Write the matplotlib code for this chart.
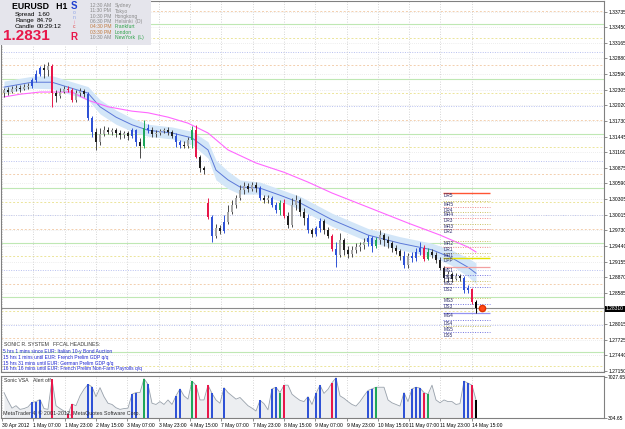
import numpy as np
import matplotlib
matplotlib.use("Agg")
import matplotlib.pyplot as plt
from matplotlib.patches import Rectangle

plt.rcParams['font.family'] = ['Liberation Sans', 'DejaVu Sans']

# ---------------- data ----------------
opens = [1.3224,1.3230,1.3226,1.3232,1.3233,1.3232,1.3235,1.3237,1.3248,1.3259,
         1.3270,1.3266,1.3274,1.3224,1.3219,1.3226,1.3232,1.3230,1.3211,1.3224,
         1.3228,1.3222,1.3178,1.3153,1.3134,1.3149,1.3156,1.3153,1.3156,1.3151,
         1.3147,1.3151,1.3145,1.3156,1.3134,1.3127,1.3160,1.3156,1.3149,1.3151,
         1.3155,1.3156,1.3153,1.3145,1.3134,1.3129,1.3127,1.3138,1.3156,1.3107,
         1.3087,1.3023,1.2997,1.2962,1.2977,1.2971,1.2988,1.3006,1.3019,1.3032,
         1.3047,1.3054,1.3048,1.3056,1.3050,1.3032,1.3028,1.3032,1.3019,1.3010,
         1.3023,1.2999,1.2982,1.3019,1.3028,1.3006,1.2995,1.2973,1.2966,1.2977,
         1.2990,1.2973,1.2962,1.2938,1.2927,1.2955,1.2937,1.2929,1.2937,1.2942,
         1.2946,1.2951,1.2959,1.2944,1.2955,1.2964,1.2955,1.2949,1.2940,1.2935,
         1.2926,1.2909,1.2926,1.2922,1.2933,1.2940,1.2920,1.2933,1.2927,1.2918,
         1.2904,1.2885,1.2893,1.2883,1.2889,1.2885,1.2863,1.2865,1.2841]
highs = [1.3233,1.3235,1.3237,1.3239,1.3239,1.3241,1.3243,1.3252,1.3266,1.3274,
         1.3277,1.3281,1.3277,1.3230,1.3233,1.3237,1.3237,1.3233,1.3230,1.3233,
         1.3232,1.3226,1.3182,1.3160,1.3160,1.3164,1.3162,1.3160,1.3160,1.3156,
         1.3155,1.3155,1.3160,1.3158,1.3142,1.3175,1.3167,1.3162,1.3156,1.3158,
         1.3160,1.3162,1.3156,1.3151,1.3138,1.3136,1.3144,1.3164,1.3166,1.3111,
         1.3091,1.3032,1.3001,1.2984,1.2982,1.3001,1.3019,1.3028,1.3037,1.3056,
         1.3061,1.3059,1.3061,1.3061,1.3054,1.3037,1.3037,1.3036,1.3025,1.3028,
         1.3030,1.3006,1.3032,1.3037,1.3032,1.3014,1.3003,1.2977,1.2981,1.2995,
         1.2993,1.2979,1.2966,1.2951,1.2968,1.2959,1.2944,1.2944,1.2949,1.2951,
         1.2959,1.2964,1.2962,1.2960,1.2973,1.2968,1.2962,1.2953,1.2946,1.2938,
         1.2935,1.2931,1.2933,1.2940,1.2951,1.2946,1.2940,1.2938,1.2933,1.2924,
         1.2907,1.2898,1.2896,1.2894,1.2893,1.2889,1.2872,1.2867,1.2845]
lows = [1.3217,1.3221,1.3224,1.3228,1.3226,1.3230,1.3232,1.3233,1.3244,1.3255,
        1.3252,1.3255,1.3199,1.3208,1.3215,1.3224,1.3226,1.3208,1.3208,1.3219,
        1.3217,1.3175,1.3144,1.3120,1.3129,1.3145,1.3149,1.3147,1.3144,1.3140,
        1.3142,1.3138,1.3142,1.3127,1.3105,1.3123,1.3151,1.3144,1.3144,1.3147,
        1.3151,1.3147,1.3142,1.3125,1.3123,1.3123,1.3123,1.3123,1.3105,1.3079,
        1.3076,1.2993,1.2951,1.2959,1.2966,1.2968,1.2984,1.3003,1.3014,1.3028,
        1.3039,1.3043,1.3045,1.3043,1.3028,1.3023,1.3023,1.3015,1.3004,1.3001,
        1.2995,1.2977,1.2979,1.3010,1.2999,1.2982,1.2968,1.2960,1.2962,1.2970,
        1.2966,1.2959,1.2935,1.2905,1.2924,1.2927,1.2922,1.2924,1.2931,1.2935,
        1.2938,1.2944,1.2933,1.2940,1.2948,1.2944,1.2940,1.2933,1.2929,1.2918,
        1.2904,1.2904,1.2915,1.2916,1.2927,1.2916,1.2918,1.2922,1.2913,1.2900,
        1.2878,1.2878,1.2878,1.2882,1.2880,1.2858,1.2858,1.2838,1.2821]
closes = [1.3230,1.3226,1.3232,1.3233,1.3232,1.3235,1.3237,1.3248,1.3259,1.3270,
          1.3266,1.3274,1.3224,1.3219,1.3226,1.3232,1.3230,1.3211,1.3224,1.3228,
          1.3222,1.3178,1.3153,1.3134,1.3149,1.3156,1.3153,1.3156,1.3151,1.3147,
          1.3151,1.3145,1.3156,1.3134,1.3127,1.3160,1.3156,1.3149,1.3151,1.3155,
          1.3156,1.3153,1.3145,1.3134,1.3129,1.3127,1.3138,1.3156,1.3107,1.3087,
          1.3083,1.2997,1.2962,1.2977,1.2971,1.2988,1.3006,1.3019,1.3032,1.3047,
          1.3054,1.3048,1.3056,1.3050,1.3032,1.3028,1.3032,1.3019,1.3010,1.3023,
          1.2999,1.2982,1.3019,1.3028,1.3006,1.2995,1.2973,1.2966,1.2977,1.2990,
          1.2973,1.2962,1.2938,1.2927,1.2955,1.2937,1.2929,1.2937,1.2942,1.2946,
          1.2951,1.2959,1.2944,1.2955,1.2964,1.2955,1.2949,1.2940,1.2935,1.2926,
          1.2909,1.2926,1.2922,1.2933,1.2940,1.2920,1.2933,1.2927,1.2918,1.2904,
          1.2885,1.2893,1.2883,1.2889,1.2885,1.2863,1.2867,1.2841,1.2831]
# VSA signal colour per bar: n normal, b blue, r red, g green, k black
signals = ("nnnnnnnbbb" "nnrnnnrrnn" "nbbnnnnnnn" "nnbbngbnnn" "nnnbbnngrn"
           "nrbnnbnnnn" "nnnnbnnbbg" "rnnnnnbnbb" "nnrbnnnnnn" "nbbgnnnnnn"
           "bnbbbrgnnn" "nnnnnbbrk")
volumes = [4473,3129,1918,2322,1717,1851,2120,2860,2994,3330,
           1851,1717,6625,2322,1851,1448,977,2591,2322,3935,
           5011,5818,5414,3801,5280,3801,2725,2524,1986,1717,
           1851,1918,4204,4473,4473,6759,5818,2725,2524,2994,
           2524,3263,2524,3935,5078,3935,3398,6356,5683,3263,
           3263,5683,4339,3263,2725,5280,4473,3935,3398,3667,
           2994,2322,1918,1448,3196,2658,1650,5078,5347,4473,
           5683,5683,4204,3667,3196,2994,3801,2524,4339,5683,
           4339,5011,6087,6894,3935,3532,2994,2524,2255,2994,
           3935,4809,5078,5347,5347,5347,3263,2793,2524,2255,
           4473,2994,5078,5347,5213,4473,4204,5683,3263,2793,
           3263,2994,2994,2524,2658,6356,6019,5683,3263]

slow_ma_x = [0,4,9,12,17,21,26,32,36,41,46,51,56,63,70,76,82,91,101,109,116,118]
slow_ma = [1.3217,1.3222,1.3226,1.3226,1.3226,1.3211,1.3199,1.3191,1.3188,1.3180,1.3169,
           1.3151,1.3120,1.3096,1.3079,1.3061,1.3041,1.3015,1.2986,1.2964,1.2942,1.2933]
fast_ma_x = [0,7,12,16,21,24,28,32,36,42,47,51,53,56,59,64,69,74,82,91,99,107,112,116,118]
fast_ma = [1.3235,1.3244,1.3244,1.3235,1.3224,1.3199,1.3180,1.3166,1.3156,1.3151,1.3142,
           1.3120,1.3083,1.3065,1.3052,1.3050,1.3037,1.3023,1.2992,1.2964,1.2949,1.2937,
           1.2922,1.2905,1.2894]
band_half = [0.0011,0.0011,0.0012,0.0012,0.0012,0.0013,0.0013,0.0012,0.0011,0.0011,0.0012,
             0.0015,0.0018,0.0016,0.0013,0.0011,0.0011,0.0012,0.0012,0.0012,0.0012,0.0012,
             0.0014,0.0017,0.0019]

pivot_names = ["DR5","MR5","DR4","MR4","DR3","MR3","DR2","MR2","DR1","MR1","DPP",
               "MS1","DS1","MS2","DS2","MS3","DS3","MS4","DS4","MS5","DS5"]
pivot_levels = [1.3041,1.3026,1.3015,1.3006,1.2995,1.2984,1.2975,1.2953,1.2942,1.2931,1.2922,
                1.2905,1.2891,1.2880,1.2869,1.2849,1.2838,1.2821,1.2808,1.2797,1.2786]

levels_50 = [1.2750,1.2850,1.2950,1.3050,1.3150,1.3250,1.3350]
levels_00 = [1.2800,1.2900,1.3000,1.3100,1.3200,1.3300]
levels_25 = [1.2725,1.2825,1.2925,1.3025,1.3125,1.3225,1.3325]
levels_75 = [1.2775,1.2875,1.2975,1.3075,1.3175,1.3275,1.3375]

price_ticks = [1.33735,1.33450,1.33165,1.32880,1.32590,1.32305,1.32020,1.31730,1.31445,
               1.31160,1.30875,1.30590,1.30305,1.30015,1.29730,1.29440,1.29155,1.28870,
               1.28585,1.28300,1.28015,1.27725,1.27440,1.27150]
date_labels = ["30 Apr 2012","1 May 07:00","1 May 23:00","2 May 15:00","3 May 07:00",
               "3 May 23:00","4 May 15:00","7 May 07:00","7 May 23:00","8 May 15:00",
               "9 May 07:00","9 May 23:00","10 May 15:00","11 May 07:00","11 May 23:00",
               "14 May 15:00"]
bid = 1.2831
vol_min, vol_max = 304.65, 7027.65

headlines = ["5 hrs 1 mins since EUR: Italian 10-y Bond Auction",
             "15 hrs 1 mins until EUR: French Prelim GDP q/q",
             "15 hrs 31 mins until EUR: German Prelim GDP q/q",
             "16 hrs 16 mins until EUR: French Prelim Non-Farm Payrolls q/q"]
sessions = [("12:30 AM","Sydney"),("11:30 PM","Tokyo"),("10:30 PM","Hongkong"),
            ("06:30 PM","Helsinki  (D)"),("04:30 PM","Frankfurt"),("03:30 PM","London"),
            ("10:30 AM","NewYork  (L)")]

# ---------------- figure ----------------
W, H = 625, 429
fig = plt.figure(figsize=(W/100, H/100), dpi=100)
fig.patch.set_facecolor("white")

ax = fig.add_axes([1/W, 1-372/H, 603/W, 371/H])
axv = fig.add_axes([1/W, 1-418/H, 603/W, 42/H])

n = len(closes)
x = np.arange(n)
o = np.array(opens); c = np.array(closes); hi = np.array(highs); lo = np.array(lows)
XMIN, XMAX = -0.75, 150.0
date_pos = -0.5 + 7.83*np.arange(len(date_labels))

for a in (ax, axv):
    a.set_xlim(XMIN, XMAX)
    a.set_facecolor("white")
    for s in a.spines.values():
        s.set_color("#808080"); s.set_linewidth(0.8)
    a.set_xticks(date_pos)
    a.grid(axis="x", color="#c8c8c8", linestyle=(0, (1, 2)), linewidth=0.6)
    a.set_axisbelow(True)

ax.set_ylim(1.27131, 1.33928)
ax.yaxis.tick_right()
ax.set_yticks(price_ticks)
# the 1.28300 label sits under the current-price box, as in MetaTrader
ax.set_yticklabels(["" if abs(v - 1.28300) < 1e-6 else f"{v:.5f}" for v in price_ticks])
ax.tick_params(axis="y", length=2, width=0.5, color="#606060", labelsize=3.6, pad=1)
ax.tick_params(axis="x", length=0, labelbottom=False)
ax.grid(axis="y", color="#dcdcdc", linestyle=(0, (1, 2)), linewidth=0.5)

# quarter levels
for lv in levels_50:
    ax.axhline(lv, color="#bfe8b4", lw=0.8, zorder=0.5)
for lv in levels_00:
    ax.axhline(lv, color="#b8c0f0", lw=0.7, ls=(0, (1, 1.5)), zorder=0.5)
for lv in levels_25:
    ax.axhline(lv, color="#ece59a", lw=0.7, ls=(0, (2, 2)), zorder=0.5)
for lv in levels_75:
    ax.axhline(lv, color="#f3cfae", lw=0.7, ls=(0, (2, 2)), zorder=0.5)

# band + moving averages
fm = np.array(fast_ma); bh = np.array(band_half)
ax.fill_between(fast_ma_x, fm-bh, fm+bh, color="#d3e6f8", lw=0, zorder=1)
ax.plot(fast_ma_x, fast_ma, color="#5b78d8", lw=0.7, zorder=2)
ax.plot(slow_ma_x, slow_ma, color="#ff66ff", lw=0.8, zorder=2)

# bid line
ax.axhline(bid, color="#8c8c8c", lw=0.8, zorder=2)

# candles
sig_col = {"b": "#2f52d6", "r": "#e8174a", "g": "#1fa65a", "k": "#000000"}
wick_c, body_c = [], []
for i in range(n):
    s = signals[i]
    if s in sig_col:
        wick_c.append(sig_col[s]); body_c.append(sig_col[s])
    else:
        wick_c.append("#4a4a4a")
        body_c.append("#a6a6a6" if c[i] >= o[i] else "#1e1e1e")
ax.vlines(x, lo, hi, colors=wick_c, lw=0.7, zorder=3)
bh_ = np.maximum(np.abs(c-o), 0.00012)
ax.bar(x, bh_, bottom=np.minimum(o, c), width=0.6, color=body_c, lw=0, zorder=4)

# pivot levels
x0p, x1p = 109.8, 121.5
for name, lv in zip(pivot_names, pivot_levels):
    style = dict(color="#c8c060", ls=(0, (1, 1.5)), lw=0.7)
    if name.startswith("DR"):
        style = dict(color="#f08a8a", ls=(0, (1, 1.5)), lw=0.7)
    if name.startswith("DS"):
        style = dict(color="#7272e0", ls=(0, (1, 1.5)), lw=0.7)
    if name == "DR5":
        style = dict(color="#ff5533", ls="-", lw=1.0)
    if name == "DPP":
        style = dict(color="#e3e300", ls="-", lw=1.0)
    if name == "MS1":
        style = dict(color="#f2a0a0", ls="-", lw=0.9)
    if name == "MS4":
        style = dict(color="#9494f2", ls="-", lw=0.9)
    ax.hlines(lv, x0p, x1p, zorder=2.5, **style)
    ax.text(x0p + 0.2, lv - 0.00006, name, fontsize=3.4, color="#2b2b6a",
            va="top", ha="left", zorder=5)

# current price marker
ax.plot([119.5], [bid], "o", color="#ff4a1a", ms=4.5, mec="#e03000", zorder=6)

# volume panel
v = np.array(volumes, dtype=float)
axv.set_ylim(vol_min, 7190)
axv.fill_between(x, vol_min, v, color="#eceef1", lw=0, zorder=1)
axv.plot(x, v, color="#98a1ab", lw=0.6, zorder=2)
for key, col in sig_col.items():
    idx = [i for i in range(n) if signals[i] == key]
    axv.bar(np.array(idx), v[idx]-vol_min, bottom=vol_min, width=0.6, color=col, lw=0, zorder=3)
axv.yaxis.tick_right()
axv.set_yticks([vol_min, vol_max])
axv.set_yticklabels([f"{vol_min:.2f}", f"{vol_max:.2f}"])
axv.tick_params(axis="y", length=2, width=0.5, color="#606060", labelsize=3.6, pad=1)
axv.set_xticklabels(date_labels, ha="left", fontsize=3.6)
axv.tick_params(axis="x", length=2, width=0.5, color="#606060", pad=1.5)
axv.grid(axis="y", visible=False)

# ---------------- overlay (pixel coords) ----------------
ov = fig.add_axes([0, 0, 1, 1], zorder=10)
ov.set_xlim(0, W); ov.set_ylim(H, 0); ov.axis("off")
ov.patch.set_alpha(0)

ov.add_patch(Rectangle((0, 0), 151, 45, facecolor="#e5e5ec", edgecolor="none"))
ov.text(12, 6.5, "EURUSD   H1", fontsize=6.3, fontweight="bold", va="center", color="#000")
for k, (lab, val) in enumerate([("Spread", "1.60"), ("Range", "84.79"), ("Candle", "00:29:12")]):
    ov.text(15, 14.5+6*k, lab, fontsize=4.6, va="center", color="#000")
    ov.text(37, 14.5+6*k, val, fontsize=4.6, va="center", color="#000")
ov.text(3, 36.5, "1.2831", fontsize=11, fontweight="bold", va="center", color="#e8174a")
ov.text(74, 6, "S", fontsize=7, fontweight="bold", ha="center", va="center", color="#2040d0")
for k, (ch, col) in enumerate(zip("onic", ["#8ea4e8", "#8ea4e8", "#f08fa8", "#e04040"])):
    ov.text(74, 12.5+4.8*k, ch, fontsize=3.6, ha="center", va="center", color=col)
ov.text(74, 37, "R", fontsize=7, fontweight="bold", ha="center", va="center", color="#e8174a")
for k, (t, city) in enumerate(sessions):
    tc = "#c07a3e" if k in (4, 5) else "#8a8a8a"
    cc = "#2fa34a" if k >= 4 else "#8a8a8a"
    ov.text(90, 5.7+5.3*k, t, fontsize=3.6, va="center", color=tc)
    ov.text(115, 5.7+5.3*k, city, fontsize=3.6, va="center", color=cc)

ov.text(4, 345, "SONIC R. SYSTEM   FFCAL HEADLINES:", fontsize=3.7, va="center", color="#3a3a3a")
for k, t in enumerate(headlines):
    ov.text(3, 352+5.6*k, t, fontsize=3.5, va="center", color="#1a22d0")

ov.text(4, 381, "Sonic VSA", fontsize=3.7, va="center", color="#303030")
ov.text(33, 381, "Alert off", fontsize=3.7, va="center", color="#303030")
ov.text(3, 413.5, "MetaTrader 4, \u00a9 2001-2012, MetaQuotes Software Corp.", fontsize=3.9,
        va="center", color="#303030")

ov.add_patch(Rectangle((605, 305.8), 20, 5.8, facecolor="#000000", edgecolor="none"))
ov.text(606, 308.7, f"{bid:.5f}", fontsize=3.6, va="center", color="white")

fig.savefig("out.png", dpi=100, facecolor="white")
